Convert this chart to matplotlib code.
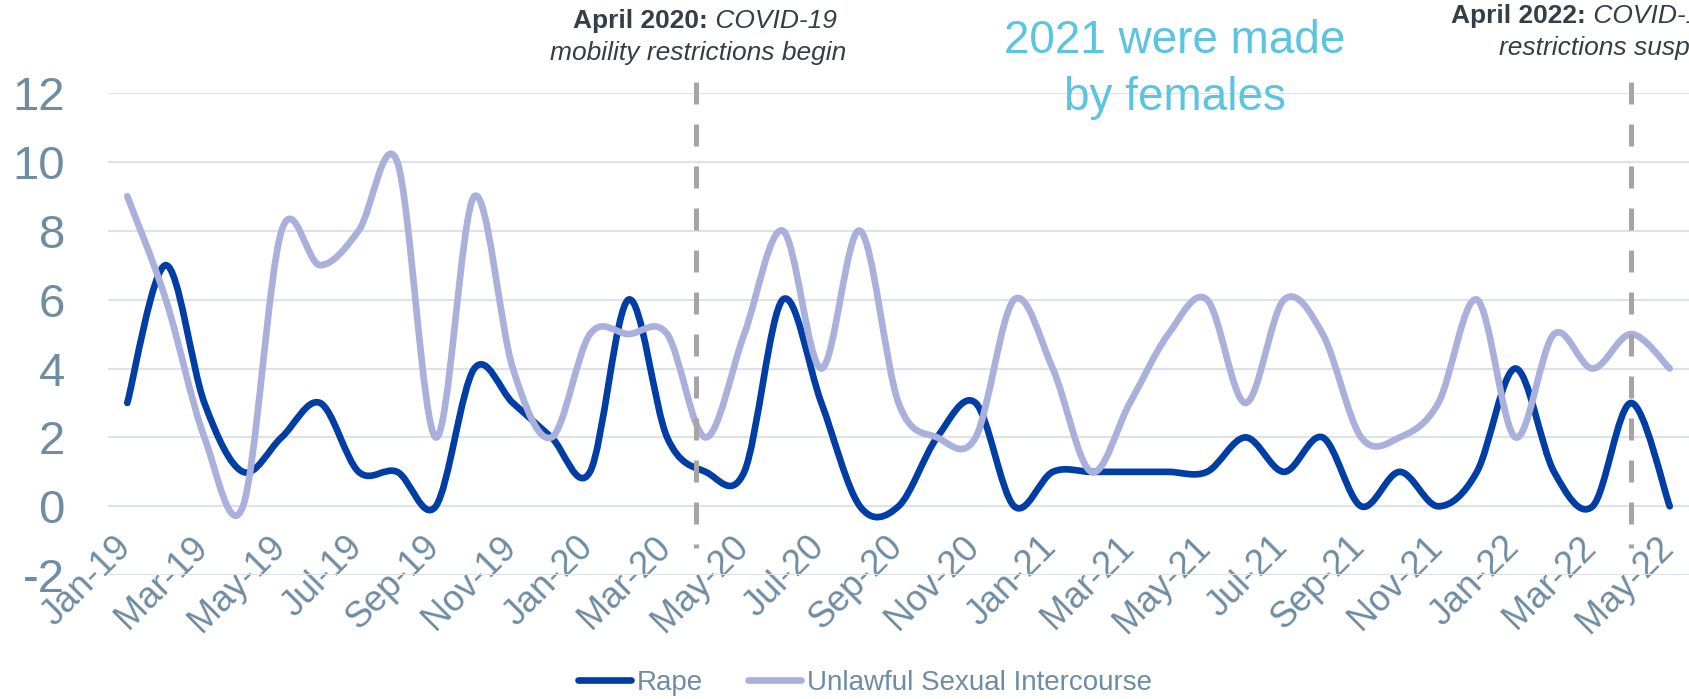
import matplotlib
matplotlib.use("Agg")
import matplotlib.pyplot as plt
from matplotlib.path import Path
from matplotlib.patches import PathPatch
from matplotlib.lines import Line2D
from matplotlib.transforms import ScaledTranslation

plt.rcParams['font.family'] = ['Liberation Sans', 'DejaVu Sans']
plt.rcParams['axes.unicode_minus'] = False

# monthly counts, Jan-19 .. May-22
rape = [3, 7, 3, 1, 2, 3, 1, 1, 0, 4, 3, 2, 1, 6, 2, 1, 1, 6, 3, 0, 0,
        2, 3, 0, 1, 1, 1, 1, 1, 2, 1, 2, 0, 1, 0, 1, 4, 1, 0, 3, 0]
unlawful = [9, 6, 2, 0, 8, 7, 8, 10, 2, 9, 4, 2, 5, 5, 5, 2, 5, 8, 4, 8, 3,
            2, 2, 6, 4, 1, 3, 5, 6, 3, 6, 5, 2, 2, 3, 6, 2, 5, 4, 5, 4]
tick_labels = ['Jan-19', 'Mar-19', 'May-19', 'Jul-19', 'Sep-19', 'Nov-19',
               'Jan-20', 'Mar-20', 'May-20', 'Jul-20', 'Sep-20', 'Nov-20',
               'Jan-21', 'Mar-21', 'May-21', 'Jul-21', 'Sep-21', 'Nov-21',
               'Jan-22', 'Mar-22', 'May-22']
y_ticks = [-2, 0, 2, 4, 6, 8, 10, 12]

RAPE_C = '#003da5'
UNL_C = '#a9b0db'
TICK_C = '#6f8ca2'
NOTE_C = '#333f48'
CYAN = '#5bc4e1'

W, H = 1689, 699
fig = plt.figure(figsize=(W / 100, H / 100), dpi=100)
ax = fig.add_axes([108 / W, 1 - 575.2 / H, 1 - 108 / W, (575.2 - 92.9) / H])


def smooth_path(vals):
    # Excel-like smoothed line: cubic Bezier through every point
    n = len(vals)
    verts = [(0, vals[0])]
    codes = [Path.MOVETO]
    for i in range(n - 1):
        xp, yp = (i - 1, vals[i - 1]) if i > 0 else (i, vals[i])
        xn, yn = (i + 2, vals[i + 2]) if i + 2 < n else (i + 1, vals[i + 1])
        c1 = (i + (i + 1 - xp) / 6, vals[i] + (vals[i + 1] - yp) / 6)
        c2 = (i + 1 - (xn - i) / 6, vals[i + 1] - (yn - vals[i]) / 6)
        verts += [c1, c2, (i + 1, vals[i + 1])]
        codes += [Path.CURVE4] * 3
    return Path(verts, codes)


for vals, col, z in [(rape, RAPE_C, 3), (unlawful, UNL_C, 4)]:
    ax.add_patch(PathPatch(smooth_path(vals), fill=False, edgecolor=col,
                           lw=4.8, capstyle='round', joinstyle='round',
                           zorder=z))

ax.set_xlim(-0.5, len(rape) - 0.5)
ax.set_ylim(-2, 12)
ax.set_yticks(y_ticks)
ax.set_yticklabels([str(v) for v in y_ticks])
ax.yaxis.grid(True, color='#dde2e9', lw=1.5)
ax.set_axisbelow(True)
ax.tick_params(axis='y', length=0, pad=31, labelsize=34, labelcolor=TICK_C)
for s in ax.spines.values():
    s.set_visible(False)

ax.set_xticks(range(0, len(rape), 2))
ax.set_xticklabels(tick_labels, rotation=45, ha='right', va='top',
                   rotation_mode='anchor')
ax.tick_params(axis='x', length=0, pad=-33, labelsize=26, labelcolor=TICK_C)
shift = ScaledTranslation(-14 / 100, 0, fig.dpi_scale_trans)
for lab in ax.get_xticklabels():
    lab.set_transform(lab.get_transform() + shift)

# event markers
for xe in [14.76, 39]:
    ax.plot([xe, xe], [12.32, -1.21], color='#a5a5a5', lw=3.6,
            dashes=(4.4, 4.0), clip_on=False, zorder=5)

renderer = fig.canvas.get_renderer()


def note_line(x_px, y_px, bold, ital, align='center'):
    a = fig.text(0, 1 - y_px / H, bold, weight='bold', fontsize=19,
                 color=NOTE_C, va='baseline')
    b = fig.text(0, 1 - y_px / H, ital, style='italic', fontsize=19,
                 color=NOTE_C, va='baseline')
    wa = a.get_window_extent(renderer).width
    wb = b.get_window_extent(renderer).width
    x0 = x_px - (wa + wb) / 2 if align == 'center' else x_px
    a.set_x(x0 / W)
    b.set_x((x0 + wa) / W)


note_line(705, 28, 'April 2020:', ' COVID-19')
fig.text(698 / W, 1 - 60 / H, 'mobility restrictions begin', style='italic',
         fontsize=19, color=NOTE_C, ha='center', va='baseline')
note_line(1451, 23, 'April 2022:', ' COVID-19 mobility', align='left')
fig.text(1499 / W, 1 - 55 / H, 'restrictions suspended', style='italic',
         fontsize=19, color=NOTE_C, ha='left', va='baseline')

fig.text(1175 / W, 1 - 53 / H, '2021 were made', fontsize=33, color=CYAN,
         ha='center', va='baseline')
fig.text(1175 / W, 1 - 110 / H, 'by females', fontsize=33, color=CYAN,
         ha='center', va='baseline')

handles = [Line2D([], [], color=RAPE_C, lw=4.8, solid_capstyle='round'),
           Line2D([], [], color=UNL_C, lw=4.8, solid_capstyle='round')]
leg = fig.legend(handles, ['Rape', 'Unlawful Sexual Intercourse'],
                 loc='center', bbox_to_anchor=(865 / W, 1 - 683 / H),
                 ncol=2, frameon=False, fontsize=20, handlelength=1.9,
                 handletextpad=0.22, columnspacing=1.6)
for t in leg.get_texts():
    t.set_color(TICK_C)

fig.savefig('out.png', dpi=100)
